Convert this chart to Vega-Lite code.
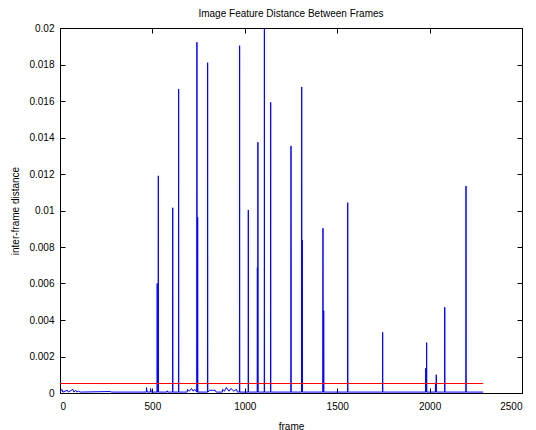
{
  "$schema": "https://vega.github.io/schema/vega-lite/v6.json",
  "width": 462,
  "height": 365,
  "autosize": "none",
  "padding": {"left": 60, "top": 28, "right": 14, "bottom": 37},
  "background": "white",
  "config": {
    "view": {"stroke": "black", "strokeWidth": 1},
    "font": "Liberation Sans",
    "axis": {"labelFont": "Liberation Sans", "titleFont": "Liberation Sans", "labelFontSize": 10, "titleFontSize": 10, "titleFontWeight": "normal", "labelColor": "black", "titleColor": "black", "domainColor": "black", "tickColor": "black", "grid": false, "tickSize": -5, "labelPadding": 13}
  },
  "title": {"text": "Image Feature Distance Between Frames", "fontSize": 10, "fontWeight": "normal", "font": "Liberation Sans", "color": "black", "offset": 4},
  "datasets": {
    "dist": [
      {"frame": 0, "d": 0.00005}, {"frame": 10, "d": 0.0002}, {"frame": 15, "d": 0.00005},
      {"frame": 40, "d": 0.00015}, {"frame": 45, "d": 0.00005}, {"frame": 70, "d": 0.0002},
      {"frame": 75, "d": 0.00005}, {"frame": 85, "d": 0.00015}, {"frame": 90, "d": 0.00005},
      {"frame": 100, "d": 0.0001}, {"frame": 110, "d": 0.00005}, {"frame": 270, "d": 0.00008},
      {"frame": 280, "d": 0.00005}, {"frame": 467, "d": 0.00005}, {"frame": 468, "d": 0.0003},
      {"frame": 472, "d": 0.00005}, {"frame": 489, "d": 0.00005}, {"frame": 490, "d": 0.00025},
      {"frame": 494, "d": 0.00005}, {"frame": 525, "d": 0.00005}, {"frame": 526, "d": 0.006},
      {"frame": 527, "d": 0.00005}, {"frame": 531, "d": 0.00005}, {"frame": 532, "d": 0.0119},
      {"frame": 533, "d": 0.00005}, {"frame": 578, "d": 0.00005}, {"frame": 580, "d": 0.00012},
      {"frame": 583, "d": 0.00005}, {"frame": 609, "d": 0.00005}, {"frame": 610, "d": 0.01015},
      {"frame": 611, "d": 0.00005}, {"frame": 641, "d": 0.00005}, {"frame": 642, "d": 0.01666},
      {"frame": 643, "d": 0.00005}, {"frame": 688, "d": 0.00005}, {"frame": 690, "d": 0.0002},
      {"frame": 700, "d": 0.0001}, {"frame": 712, "d": 0.00025}, {"frame": 720, "d": 0.0001},
      {"frame": 730, "d": 0.0002}, {"frame": 740, "d": 0.00005}, {"frame": 741, "d": 0.01922},
      {"frame": 742, "d": 0.00005}, {"frame": 744, "d": 0.00005}, {"frame": 745, "d": 0.00963},
      {"frame": 746, "d": 0.00005}, {"frame": 798, "d": 0.00005}, {"frame": 799, "d": 0.0181},
      {"frame": 800, "d": 0.00005}, {"frame": 810, "d": 0.00015}, {"frame": 840, "d": 0.00015},
      {"frame": 845, "d": 0.00005}, {"frame": 878, "d": 0.00005}, {"frame": 880, "d": 0.0002},
      {"frame": 890, "d": 0.0001}, {"frame": 900, "d": 0.0003}, {"frame": 915, "d": 0.0001},
      {"frame": 925, "d": 0.00025}, {"frame": 940, "d": 0.0001}, {"frame": 955, "d": 0.0002},
      {"frame": 960, "d": 0.00005}, {"frame": 971, "d": 0.00005}, {"frame": 972, "d": 0.01903},
      {"frame": 973, "d": 0.00005}, {"frame": 1018, "d": 0.00005}, {"frame": 1019, "d": 0.01003},
      {"frame": 1020, "d": 0.00005}, {"frame": 1067, "d": 0.00005}, {"frame": 1068, "d": 0.00687},
      {"frame": 1069, "d": 0.00005}, {"frame": 1070, "d": 0.00005}, {"frame": 1071, "d": 0.01374},
      {"frame": 1072, "d": 0.00005}, {"frame": 1105, "d": 0.00005}, {"frame": 1106, "d": 0.0205},
      {"frame": 1107, "d": 0.00005}, {"frame": 1139, "d": 0.00005}, {"frame": 1140, "d": 0.01593},
      {"frame": 1141, "d": 0.00005}, {"frame": 1249, "d": 0.00005}, {"frame": 1250, "d": 0.01354},
      {"frame": 1251, "d": 0.00005}, {"frame": 1307, "d": 0.00005}, {"frame": 1308, "d": 0.01677},
      {"frame": 1309, "d": 0.00005}, {"frame": 1310, "d": 0.00005}, {"frame": 1311, "d": 0.00838},
      {"frame": 1312, "d": 0.00005}, {"frame": 1422, "d": 0.00005}, {"frame": 1423, "d": 0.00903},
      {"frame": 1424, "d": 0.00005}, {"frame": 1426, "d": 0.00005}, {"frame": 1427, "d": 0.00451},
      {"frame": 1428, "d": 0.00005}, {"frame": 1556, "d": 0.00005}, {"frame": 1557, "d": 0.01043},
      {"frame": 1558, "d": 0.00005}, {"frame": 1745, "d": 0.00005}, {"frame": 1746, "d": 0.00333},
      {"frame": 1747, "d": 0.00005}, {"frame": 1978, "d": 0.00005}, {"frame": 1979, "d": 0.00135},
      {"frame": 1980, "d": 0.00005}, {"frame": 1983, "d": 0.00005}, {"frame": 1984, "d": 0.00276},
      {"frame": 1985, "d": 0.00005}, {"frame": 2031, "d": 0.00005}, {"frame": 2032, "d": 0.0005},
      {"frame": 2033, "d": 0.00005}, {"frame": 2035, "d": 0.00005}, {"frame": 2036, "d": 0.001},
      {"frame": 2037, "d": 0.00005}, {"frame": 2081, "d": 0.00005}, {"frame": 2082, "d": 0.0047},
      {"frame": 2083, "d": 0.00005}, {"frame": 2196, "d": 0.00005}, {"frame": 2197, "d": 0.01134},
      {"frame": 2198, "d": 0.00005}, {"frame": 2290, "d": 0.00005}
    ],
    "threshold": [
      {"frame": 0, "d": 0.00052}, {"frame": 2290, "d": 0.00052}
    ]
  },
  "layer": [
    {
      "data": {"name": "dist"},
      "mark": {"type": "line", "color": "#0000ff", "strokeWidth": 1, "clip": true},
      "encoding": {
        "x": {"field": "frame", "type": "quantitative", "scale": {"domain": [0, 2500], "nice": false},
              "axis": {"orient": "bottom", "values": [0, 500, 1000, 1500, 2000, 2500], "format": "d", "title": "frame", "titlePadding": 10}},
        "y": {"field": "d", "type": "quantitative", "scale": {"domain": [0, 0.02], "nice": false, "zero": true},
              "axis": {"orient": "left", "values": [0, 0.002, 0.004, 0.006, 0.008, 0.01, 0.012, 0.014, 0.016, 0.018, 0.02], "format": "~g", "labelPadding": 11, "title": "inter-frame distance", "titlePadding": 8}}
      }
    },
    {
      "data": {"name": "threshold"},
      "mark": {"type": "line", "color": "#ff0000", "strokeWidth": 1, "clip": true},
      "encoding": {
        "x": {"field": "frame", "type": "quantitative",
              "axis": {"orient": "top", "values": [0, 500, 1000, 1500, 2000, 2500], "labels": false, "domain": false, "title": null}},
        "y": {"field": "d", "type": "quantitative",
              "axis": {"orient": "right", "values": [0, 0.002, 0.004, 0.006, 0.008, 0.01, 0.012, 0.014, 0.016, 0.018, 0.02], "labels": false, "domain": false, "title": null}}
      }
    }
  ],
  "resolve": {"axis": {"x": "independent", "y": "independent"}}
}
